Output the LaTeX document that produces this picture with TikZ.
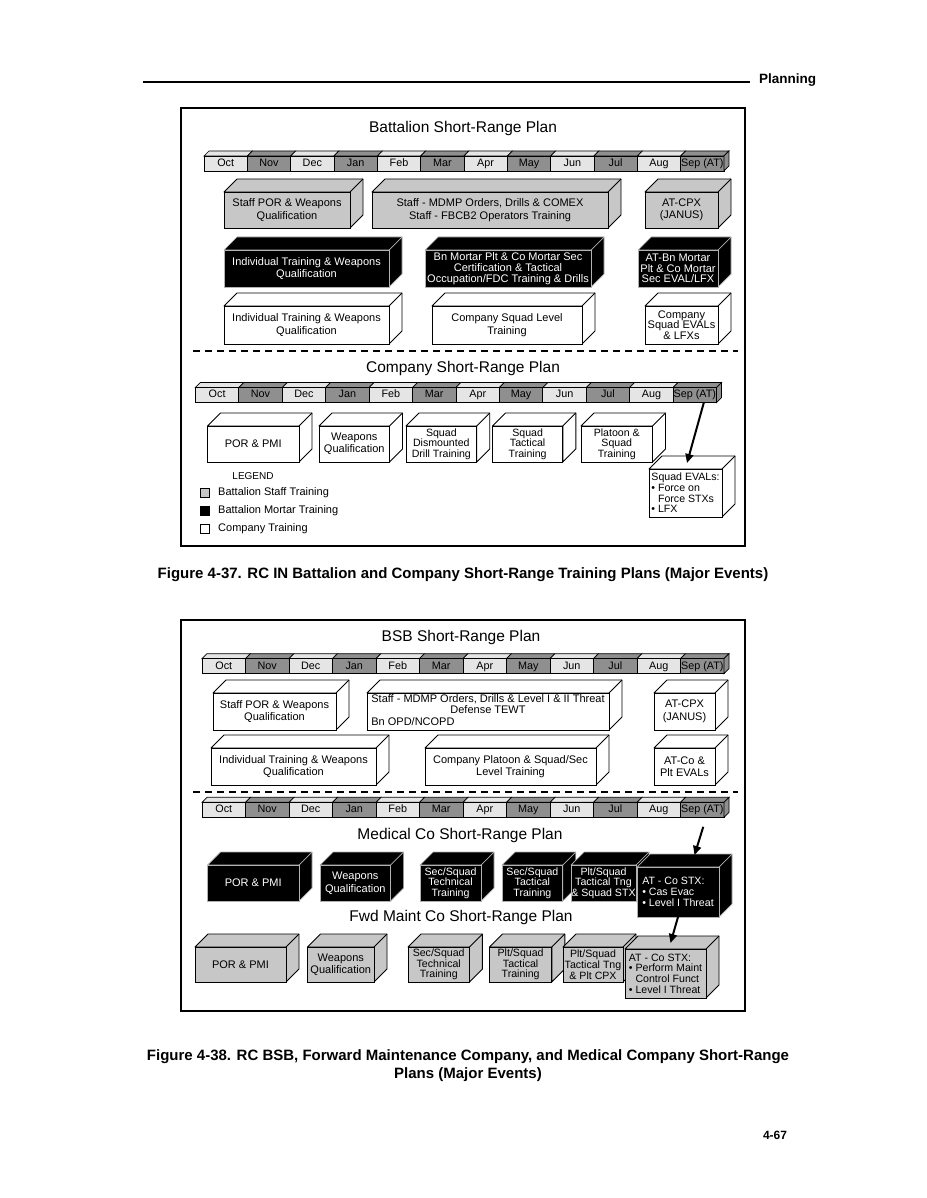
\documentclass[tikz,border=0pt]{standalone}
\usepackage{fontspec}
\setmainfont{Liberation Sans}
\usetikzlibrary{arrows.meta}
\definecolor{boxgray}{gray}{0.78}
\definecolor{mlight}{gray}{0.90}
\definecolor{mdark}{gray}{0.56}
\tikzset{
  front/.style={line width=0.9pt, inner sep=0pt, outer sep=0pt, align=center, font=\fontsize{11}{12.5}\selectfont},
  tight/.style={font=\fontsize{10.6}{10.7}\selectfont},
  gbox/.style={front, draw=black, fill=boxgray},
  gboxface/.style={draw=black, fill=boxgray, line width=0.9pt, line join=round},
  wbox/.style={front, draw=black, fill=white},
  wboxface/.style={draw=black, fill=white, line width=0.9pt, line join=round},
  bbox/.style={front, draw=gray!60, fill=black, text=white},
  bboxface/.style={draw=gray!60, fill=black, line width=0.7pt, line join=round},
  month/.style={draw=black, line width=0.7pt, inner sep=0pt, outer sep=0pt, text height=7.8pt, text depth=2.2pt, font=\fontsize{10.8}{12}\selectfont},
  frame/.style={draw=black, fill=white, line width=2pt, inner sep=0pt, outer sep=0pt},
  title/.style={font=\fontsize{15.5}{18}\selectfont, inner sep=0pt},
  arr/.style={line width=2pt, -{Triangle[length=9pt,width=8pt]}},
  caption/.style={font={\fontsize{15}{18}\selectfont\bfseries}, align=center, inner sep=0pt},
  legtext/.style={font=\fontsize{11}{12}\selectfont, anchor=west, inner sep=0pt},
  legsq/.style={draw=black, line width=0.7pt, minimum size=9pt, inner sep=0pt},
  dashline/.style={line width=1.4pt, dash pattern=on 7pt off 5pt},
}
% [opts]{name}{kind}{x1}{y1}{x2}{y2}{depth}{text}
\newcommand\cubebox[9][]{%
  \filldraw[#3face] (#4,#5) -- ++(#8,-#8) -- ++({#6-#4},0) -- ++(0,{#7-#5}) -- ++(-#8,#8) -- (#6,#5) -- cycle;
  \draw[#3face] (#6,#5) -- ++(#8,-#8);
  \node[#3, #1, anchor=north west, minimum width={#6-#4}, minimum height={#7-#5}] (#2) at (#4,#5) {#9};
}
% {prefix}{x0}{y0}{w}{h}{d}
\newcommand\monthbar[6]{%
  \foreach \mn/\mc [count=\i from 0] in {Oct/mlight,Nov/mdark,Dec/mlight,Jan/mdark,Feb/mlight,Mar/mdark,Apr/mlight,May/mdark,Jun/mlight,Jul/mdark,Aug/mlight,Sep (AT)/mdark}{%
    \pgfmathsetmacro\xx{#2+\i*#4}
    \filldraw[fill=\mc, draw=black, line width=0.7pt] (\xx,#3) -- ++(#6,-#6) -- ++(#4,0) -- ++(-#6,#6) -- cycle;
    \node[month, fill=\mc, anchor=north west, minimum width={#4}, minimum height={#5}] (#1\i) at (\xx,#3) {\mn};
  }
  \pgfmathsetmacro\xe{#2+12*#4}
  \filldraw[fill=mdark, draw=black, line width=0.7pt] (\xe,#3) -- ++(#6,-#6) -- ++(0,#5) -- ++(-#6,#6) -- cycle;
}
\begin{document}
\begin{tikzpicture}[x=1pt,y=-1pt]
\useasboundingbox[fill=white] (0,0) rectangle (926,1198);

% header
\coordinate (hl) at (143,82);
\node[anchor=west, inner sep=0pt, font={\fontsize{13.5}{15}\selectfont\bfseries}] (plan) at (759,80) {Planning};
\draw[line width=1.5pt, shorten >=9pt] (hl) -- (hl -| plan.west);

% ===== Figure 4-37 =====
\node[frame, anchor=north west, minimum width=564, minimum height=438] (f1) at (181,108) {};
\node[title] (t1) at (463,128) {Battalion Short-Range Plan};
\monthbar{am}{204}{156}{43.33}{15}{5}

\cubebox{b1}{gbox}{224}{192}{350}{228}{13}{Staff POR \& Weapons\\Qualification}
\cubebox{b2}{gbox}{372}{192}{608}{228}{13}{Staff - MDMP Orders, Drills \& COMEX\\Staff - FBCB2 Operators Training}
\cubebox{b3}{gbox}{645}{192}{718}{228}{13}{AT-CPX\\(JANUS)}

\cubebox{b4}{bbox}{224}{250}{389}{287}{13}{Individual Training \& Weapons\\Qualification}
\cubebox[font=\fontsize{11}{10.7}\selectfont]{b5}{bbox}{425}{250}{591}{287}{13}{Bn Mortar Plt \& Co Mortar Sec\\Certification \& Tactical\\Occupation/FDC Training \& Drills}
\cubebox[font=\fontsize{11}{10.7}\selectfont]{b6}{bbox}{638}{250}{718}{287}{13}{AT-Bn Mortar\\Plt \& Co Mortar\\Sec EVAL/LFX}

\cubebox{b7}{wbox}{224}{306}{389}{344}{13}{Individual Training \& Weapons\\Qualification}
\cubebox{b8}{wbox}{432}{306}{582}{344}{13}{Company Squad Level\\Training}
\cubebox[font=\fontsize{11}{10.7}\selectfont]{b9}{wbox}{645}{306}{718}{344}{13}{Company\\Squad EVALs\\\& LFXs}

\coordinate (d1a) at (193,351);
\coordinate (d1b) at (738,351);
\draw[dashline] (d1a) -- (d1b);

\node[title] (t2) at (463,368) {Company Short-Range Plan};
\monthbar{cm}{195.4}{387.5}{43.43}{15}{5}

\cubebox{c1}{wbox}{207.5}{426}{299}{462}{13}{POR \& PMI}
\cubebox{c2}{wbox}{319}{426}{389.5}{462}{13}{Weapons\\Qualification}
\cubebox[tight]{c3}{wbox}{406}{426}{476.7}{462}{13}{Squad\\Dismounted\\Drill Training}
\cubebox[tight]{c4}{wbox}{492.5}{426}{562.8}{462}{13}{Squad\\Tactical\\Training}
\cubebox[tight]{c5}{wbox}{581}{426}{652.5}{462}{13}{Platoon \&\\Squad\\Training}
\cubebox[tight,align=left]{c6}{wbox}{649}{469}{722}{517}{13}{Squad EVALs:\\• Force on\\\phantom{•~}Force STXs\\• LFX}

\draw[arr] ([xshift=9pt]cm11.south) -- ([xshift=1.5pt,yshift=6pt]c6.north);

% legend
\node[inner sep=0pt, font=\fontsize{10}{12}\selectfont] (leg) at (253,476) {LEGEND};
\node[legsq, fill=boxgray] (lq1) at (204.5,493) {};
\node[legsq, fill=black] (lq2) at (204.5,510.5) {};
\node[legsq, fill=white] (lq3) at (204.5,529) {};
\node[legtext] (lt1) at (218,493) {Battalion Staff Training};
\node[legtext] (lt2) at (218,510.5) {Battalion Mortar Training};
\node[legtext] (lt3) at (218,529) {Company Training};

\node[caption] (cap1) at (463,575) {Figure 4-37. RC IN Battalion and Company Short-Range Training Plans (Major Events)};

% ===== Figure 4-38 =====
\node[frame, anchor=north west, minimum width=564, minimum height=391] (f2) at (181,620) {};
\node[title] (t3) at (461,637) {BSB Short-Range Plan};
\monthbar{bm}{202}{658.7}{43.5}{15}{5}

\cubebox{s1}{wbox}{213}{693}{336}{730}{13}{Staff POR \& Weapons\\Qualification}
\cubebox[font=\fontsize{11}{10.6}\selectfont]{s2}{wbox}{367}{693}{609}{730}{13}{\begin{tabular}{@{}l@{}}\multicolumn{1}{@{}c@{}}{Staff - MDMP Orders, Drills \& Level I \& II Threat}\\ \multicolumn{1}{@{}c@{}}{Defense TEWT}\\ Bn OPD/NCOPD\end{tabular}}
\cubebox{s3}{wbox}{654}{693}{715}{730}{13}{AT-CPX\\(JANUS)}

\cubebox{s4}{wbox}{211}{748}{376}{785}{13}{Individual Training \& Weapons\\Qualification}
\cubebox{s5}{wbox}{425}{748}{596}{785}{13}{Company Platoon \& Squad/Sec\\Level Training}
\cubebox{s6}{wbox}{654}{748}{715}{785}{13}{AT-Co \&\\Plt EVALs}

\coordinate (d2a) at (193,792);
\coordinate (d2b) at (738,792);
\draw[dashline] (d2a) -- (d2b);

\monthbar{bn}{202}{802.3}{43.5}{15}{5}
\node[title] (t4) at (460,835) {Medical Co Short-Range Plan};

\cubebox{m1}{bbox}{207.5}{865}{299}{901}{13}{POR \& PMI}
\cubebox{m2}{bbox}{320}{865}{390.6}{901}{13}{Weapons\\Qualification}
\cubebox[tight]{m3}{bbox}{420}{865}{481}{901}{13}{Sec/Squad\\Technical\\Training}
\cubebox[tight]{m4}{bbox}{502}{865}{562.8}{901}{13}{Sec/Squad\\Tactical\\Training}
\cubebox[tight]{m5}{bbox}{571}{865}{636}{901}{13}{Plt/Squad\\Tactical Tng\\\& Squad STX}
\cubebox[tight,align=left]{m6}{bbox}{637}{867}{719}{917}{13}{AT - Co STX:\\• Cas Evac\\• Level I Threat}

\node[title] (t5) at (461,917) {Fwd Maint Co Short-Range Plan};

\cubebox{g1}{gbox}{195}{947}{286}{982}{13}{POR \& PMI}
\cubebox{g2}{gbox}{307.5}{947}{374}{982}{13}{Weapons\\Qualification}
\cubebox[tight]{g3}{gbox}{408}{947}{469.4}{982}{13}{Sec/Squad\\Technical\\Training}
\cubebox[tight]{g4}{gbox}{489.5}{947}{551.8}{982}{13}{Plt/Squad\\Tactical\\Training}
\cubebox[tight]{g5}{gbox}{563}{947}{623}{982}{13}{Plt/Squad\\Tactical Tng\\\& Plt CPX}
\cubebox[tight,align=left]{g6}{gbox}{625}{949}{706}{998}{13}{AT - Co STX:\\• Perform Maint\\\phantom{•~}Control Funct\\• Level I Threat}

\draw[arr] ([xshift=1pt,yshift=-9.5pt]bn11.south) -- ([xshift=16.5pt,yshift=12pt]m6.north);
\draw[arr] (m6.south) -- ([xshift=5pt,yshift=6pt]g6.north);

\node[caption] (cap2) at (468,1066) {Figure 4-38. RC BSB, Forward Maintenance Company, and Medical Company Short-Range\\Plans (Major Events)};

\node[inner sep=0pt, font={\fontsize{12}{14}\selectfont\bfseries}] (pg) at (775,1135) {4-67};
\end{tikzpicture}
\end{document}
